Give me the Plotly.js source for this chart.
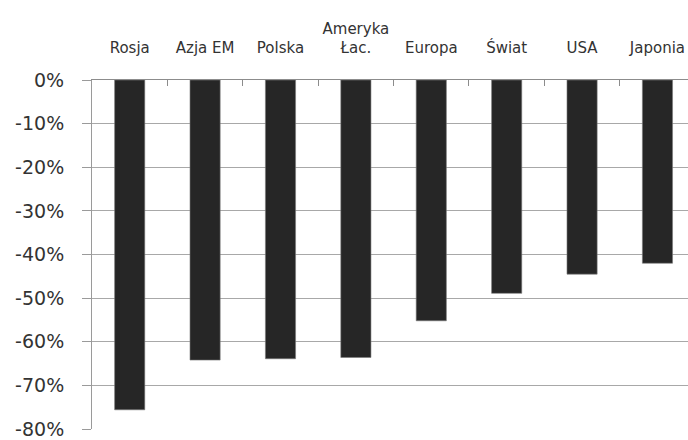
<!DOCTYPE html>
<html>
<head>
<meta charset="utf-8">
<script src="https://cdn.plot.ly/plotly-3.0.1.min.js"></script>
<style>
  html, body { margin: 0; padding: 0; background: #fff; }
  #chart { width: 688px; height: 440px; }
</style>
</head>
<body>
<div id="chart"></div>
<script>
// Regions and their declines (fraction)
const regions = ['Rosja', 'Azja EM', 'Polska', 'Ameryka<br>Łac.', 'Europa', 'Świat', 'USA', 'Japonia'];
const declines = [-0.756, -0.642, -0.639, -0.636, -0.552, -0.489, -0.445, -0.420];

// Y axis ticks, labelled with a plain hyphen
const yTickVals = [0, -0.1, -0.2, -0.3, -0.4, -0.5, -0.6, -0.7, -0.8];
const yTickText = ['0%', '-10%', '-20%', '-30%', '-40%', '-50%', '-60%', '-70%', '-80%'];

const trace = {
  type: 'bar',
  x: regions,
  y: declines,
  width: 0.4,
  marker: { color: '#262626', line: { color: '#7a7a7a', width: 0.6 } },
  hoverinfo: 'skip'
};

const layout = {
  width: 688,
  height: 440,
  margin: { l: 92, r: 0, t: 80, b: 11 },
  paper_bgcolor: '#ffffff',
  plot_bgcolor: '#ffffff',
  showlegend: false,
  font: { family: 'DejaVu Sans, sans-serif', color: '#333333' },
  xaxis: {
    type: 'category',
    side: 'top',
    range: [-0.5, 7.405],
    showgrid: false,
    showline: true,
    linecolor: '#8c8c8c',
    linewidth: 1,
    ticks: 'inside',
    ticklen: 6,
    tickcolor: '#8c8c8c',
    tickson: 'boundaries',
    tickangle: 0,
    ticklabelstandoff: 20,
    tickfont: { size: 15, color: '#333333' },
    fixedrange: true
  },
  yaxis: {
    range: [-0.8, 0],
    tickvals: yTickVals,
    ticktext: yTickText,
    showgrid: true,
    gridcolor: '#a8a8a8',
    gridwidth: 1,
    zeroline: false,
    showline: true,
    linecolor: '#9a9a9a',
    linewidth: 1,
    ticks: 'outside',
    ticklen: 9,
    tickcolor: '#9a9a9a',
    ticklabelstandoff: 14,
    tickfont: { size: 19, color: '#333333' },
    fixedrange: true
  }
};

Plotly.newPlot('chart', [trace], layout, { displayModeBar: false, staticPlot: true });
</script>
</body>
</html>
